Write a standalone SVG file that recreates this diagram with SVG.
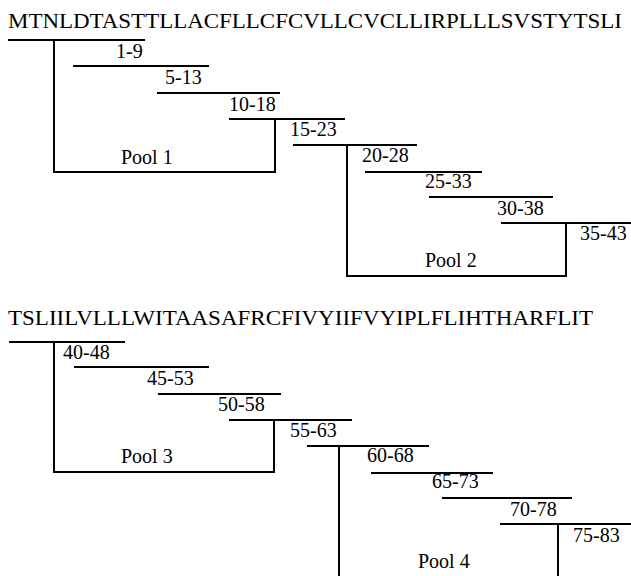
<svg xmlns="http://www.w3.org/2000/svg" width="631" height="576" viewBox="0 0 631 576">
<style>
.seq{font-family:'Liberation Serif','Times New Roman',Times,'DejaVu Serif',serif;font-size:22px;fill:#000}
.lbl{font-family:'Liberation Serif','Times New Roman',Times,'DejaVu Serif',serif;font-size:20px;fill:#000}
.ln{stroke:#000;stroke-width:2;fill:none}
</style>
<rect width="631" height="576" fill="#fff"/>
<g id="seq1"><text class="seq" x="8" y="28" textLength="614" lengthAdjust="spacingAndGlyphs">MTNLDTASTTLLACFLLCFCVLLCVCLLIRPLLLSVSTYTSLI</text></g>
<g id="seq2"><text class="seq" x="8" y="325" textLength="585" lengthAdjust="spacingAndGlyphs">TSLIILVLLLWITAASAFRCFIVYIIFVYIPLFLIHTHARFLIT</text></g>

<g id="connectors">
<path id="pool1-bracket" class="ln" d="M54 40 V172 H275 V119"/>
<path id="pool2-bracket" class="ln" d="M347 145 V276 H566 V223"/>
<path id="pool3-bracket" class="ln" d="M54 342 V472 H274 V420"/>
<path id="pool4-bracket" class="ln" d="M339 446 V576 M558 524 V576"/>
</g>

<g id="p1-9"><line class="ln" x1="8" y1="40" x2="145" y2="40"/><text class="lbl" x="116" y="58">1-9</text></g>
<g id="p5-13"><line class="ln" x1="73" y1="66" x2="209" y2="66"/><text class="lbl" x="165" y="84">5-13</text></g>
<g id="p10-18"><line class="ln" x1="157" y1="93" x2="280" y2="93"/><text class="lbl" x="229" y="111">10-18</text></g>
<g id="p15-23"><line class="ln" x1="229" y1="119" x2="345" y2="119"/><text class="lbl" x="290" y="136">15-23</text></g>
<g id="p20-28"><line class="ln" x1="293" y1="145" x2="417" y2="145"/><text class="lbl" x="362" y="162">20-28</text></g>
<g id="p25-33"><line class="ln" x1="365" y1="172" x2="482" y2="172"/><text class="lbl" x="425" y="188">25-33</text></g>
<g id="p30-38"><line class="ln" x1="429" y1="197" x2="553" y2="197"/><text class="lbl" x="497" y="215">30-38</text></g>
<g id="p35-43"><line class="ln" x1="501" y1="223" x2="631" y2="223"/><text class="lbl" x="580" y="240">35-43</text></g>
<g id="pool1"><text class="lbl" x="121" y="164">Pool 1</text></g>
<g id="pool2"><text class="lbl" x="425" y="267">Pool 2</text></g>

<g id="p40-48"><line class="ln" x1="9" y1="342" x2="125" y2="342"/><text class="lbl" x="63" y="359">40-48</text></g>
<g id="p45-53"><line class="ln" x1="74" y1="367" x2="209" y2="367"/><text class="lbl" x="147" y="385">45-53</text></g>
<g id="p50-58"><line class="ln" x1="158" y1="394" x2="281" y2="394"/><text class="lbl" x="218" y="411">50-58</text></g>
<g id="p55-63"><line class="ln" x1="229" y1="420" x2="352" y2="420"/><text class="lbl" x="290" y="437">55-63</text></g>
<g id="p60-68"><line class="ln" x1="307" y1="446" x2="429" y2="446"/><text class="lbl" x="367" y="462">60-68</text></g>
<g id="p65-73"><line class="ln" x1="371" y1="473" x2="493" y2="473"/><text class="lbl" x="432" y="488">65-73</text></g>
<g id="p70-78"><line class="ln" x1="442" y1="498" x2="572" y2="498"/><text class="lbl" x="510" y="516">70-78</text></g>
<g id="p75-83"><line class="ln" x1="500" y1="524" x2="631" y2="524"/><text class="lbl" x="573" y="542">75-83</text></g>
<g id="pool3"><text class="lbl" x="121" y="463">Pool 3</text></g>
<g id="pool4"><text class="lbl" x="418" y="568">Pool 4</text></g>
</svg>
